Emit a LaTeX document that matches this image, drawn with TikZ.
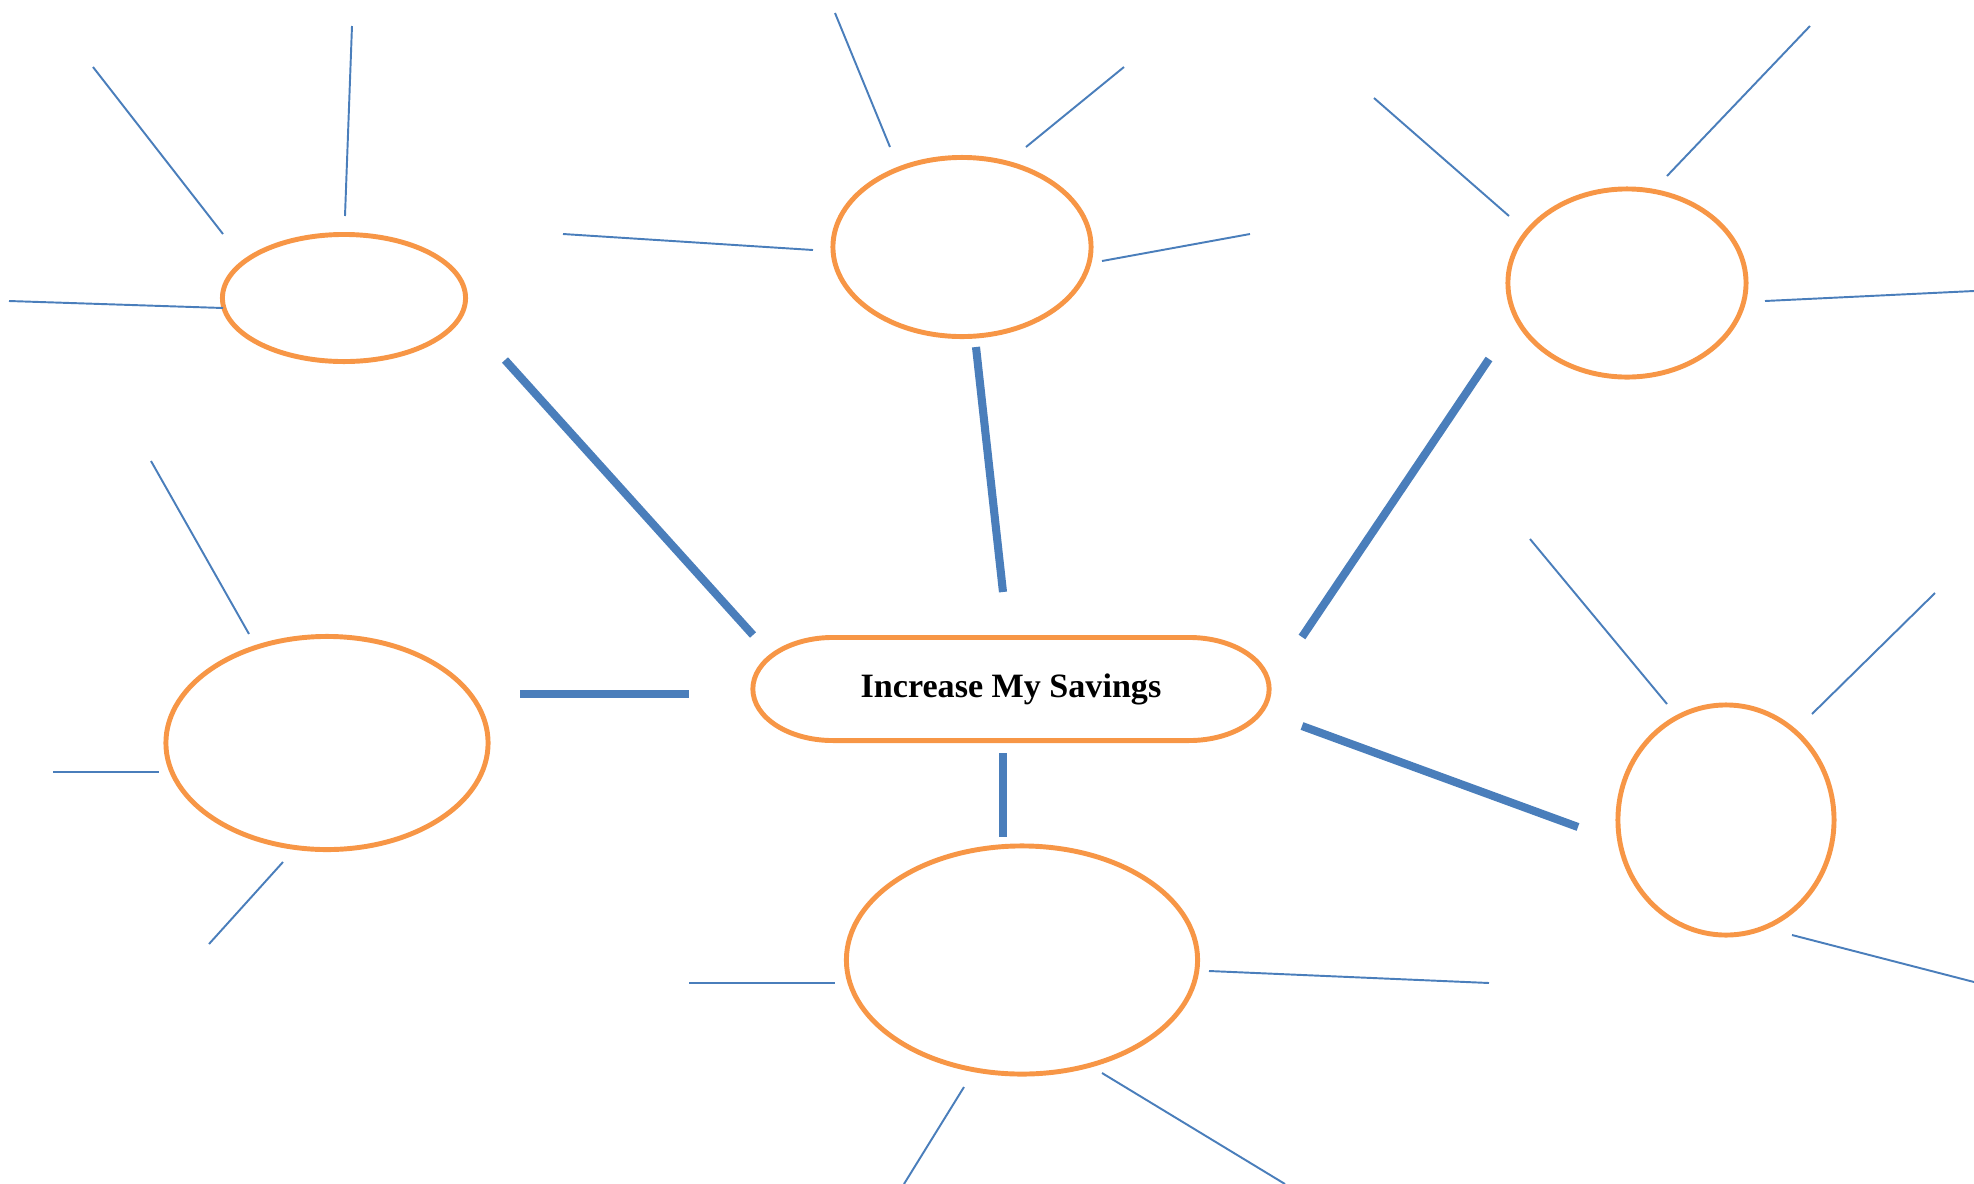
\documentclass[tikz,border=0pt]{standalone}
\usepackage{fontspec}
\setmainfont{Liberation Serif}
\usetikzlibrary{shapes.geometric}
\definecolor{mapline}{RGB}{74,126,187}
\definecolor{mapring}{RGB}{247,150,70}
\tikzset{
  idea/.style={draw=mapring,line width=1.4pt,ellipse,inner sep=0pt},
  ring/.style={draw=mapring,line width=1.4pt,line join=round},
  spoke/.style={draw=mapline,line width=2.3pt},
  twig/.style={draw=mapline,line width=0.55pt}
}

\begin{document}
\begin{tikzpicture}[x=0.01cm,y=-0.01cm]
\useasboundingbox (0,0) rectangle (1974,1184);
\node [outer sep=0pt,minimum width=5.16cm,minimum height=1.03cm,font=\bfseries\fontsize{9.7}{12}\selectfont] (savings) at (1011,689) {Increase My Savings};
\draw [ring] ([xshift=0.8cm]savings.north west) -- ([xshift=-0.8cm]savings.north east)
  arc [start angle=90,end angle=-90,x radius=0.8cm,y radius=0.515cm]
  -- ([xshift=0.8cm]savings.south west)
  arc [start angle=270,end angle=90,x radius=0.8cm,y radius=0.515cm] -- cycle;

\node [idea,minimum width=2.43cm,minimum height=1.27cm] (topleft) at (344,298) {};
\node [idea,minimum width=2.58cm,minimum height=1.79cm] (topmid) at (962,247) {};
\node [idea,minimum width=2.38cm,minimum height=1.88cm] (topright) at (1627,283) {};
\node [idea,minimum width=3.22cm,minimum height=2.13cm] (midleft) at (327,743) {};
\node [idea,minimum width=3.51cm,minimum height=2.28cm] (botmid) at (1022,960) {};
\node [idea,minimum width=2.16cm,minimum height=2.30cm] (midright) at (1726,820) {};

% spokes from the centre
\draw [spoke] (505,360) coordinate (tl-out) -- (753,635) coordinate (tl-in);
\draw [spoke] (976,347) coordinate (tm-out) -- (1003,592) coordinate (tm-in);
\draw [spoke] (1489,359) coordinate (tr-out) -- (1302,637) coordinate (tr-in);
\draw [spoke] (520,694) coordinate (ml-out) -- (689,694) coordinate (ml-in);
\draw [spoke] (1003,753) coordinate (bm-in) -- (1003,837) coordinate (bm-out);
\draw [spoke] (1302,726) coordinate (mr-in) -- (1578,827) coordinate (mr-out);

% twigs
\draw [twig] (93,67) coordinate (tl1a) -- (223,234) coordinate (tl1b);
\draw [twig] (352,26) coordinate (tl2a) -- (345,216) coordinate (tl2b);
\draw [twig] (9,301) coordinate (tl3a) -- (223,308) coordinate (tl3b);

\draw [twig] (835,13) coordinate (tm1a) -- (890,147) coordinate (tm1b);
\draw [twig] (1124,67) coordinate (tm2a) -- (1026,147) coordinate (tm2b);
\draw [twig] (563,234) coordinate (tm3a) -- (813,250) coordinate (tm3b);
\draw [twig] (1102,261) coordinate (tm4a) -- (1250,234) coordinate (tm4b);

\draw [twig] (1374,98) coordinate (tr1a) -- (1509,216) coordinate (tr1b);
\draw [twig] (1810,26) coordinate (tr2a) -- (1667,176) coordinate (tr2b);
\draw [twig] (1765,301) coordinate (tr3a) -- (1974,291) coordinate (tr3b);

\draw [twig] (151,461) coordinate (ml1a) -- (249,634) coordinate (ml1b);
\draw [twig] (53,772) coordinate (ml2a) -- (159,772) coordinate (ml2b);
\draw [twig] (283,862) coordinate (ml3a) -- (209,944) coordinate (ml3b);

\draw [twig] (689,983) coordinate (bm1a) -- (835,983) coordinate (bm1b);
\draw [twig] (1209,971) coordinate (bm2a) -- (1489,983) coordinate (bm2b);
\draw [twig] (964,1087) coordinate (bm3a) -- (904,1184) coordinate (bm3b);
\draw [twig] (1102,1073) coordinate (bm4a) -- (1285,1184) coordinate (bm4b);

\draw [twig] (1530,539) coordinate (mr1a) -- (1667,704) coordinate (mr1b);
\draw [twig] (1935,593) coordinate (mr2a) -- (1812,714) coordinate (mr2b);
\draw [twig] (1792,935) coordinate (mr3a) -- (1974,982) coordinate (mr3b);
\end{tikzpicture}
\end{document}
